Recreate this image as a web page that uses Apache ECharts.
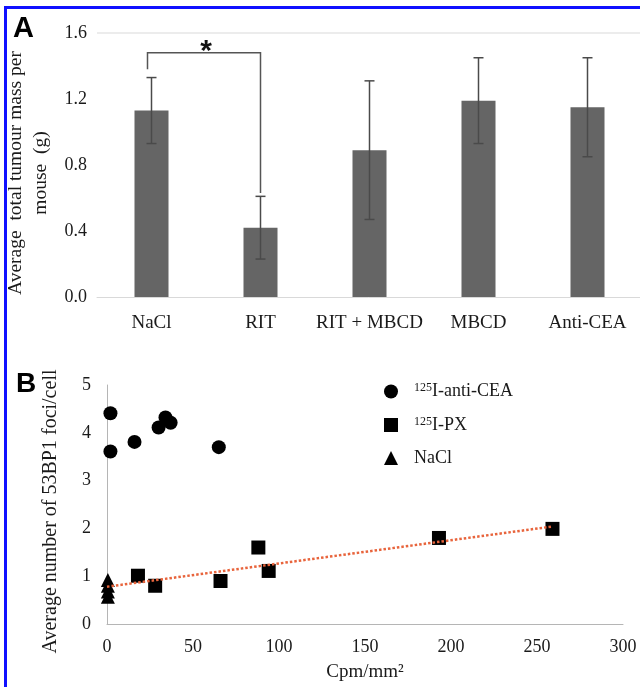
<!DOCTYPE html>
<html><head><meta charset="utf-8">
<script src="https://cdn.jsdelivr.net/npm/echarts@6/dist/echarts.min.js"></script>
<style>html,body{margin:0;padding:0;background:#fff}#c{width:640px;height:687px}</style>
</head><body><div id="c"></div>
<script>
// Panel A: average total tumour mass per mouse (g)
const categories = ['NaCl', 'RIT', 'RIT + MBCD', 'MBCD', 'Anti-CEA'];
const meanMass = [1.13, 0.42, 0.89, 1.19, 1.15];
const errMass = [0.20, 0.19, 0.42, 0.26, 0.30];
// significance bracket: [catA, catB, bracket level, left drop, right drop]
const sigBracket = [[0, 1, 1.48, 1.38, 0.63]];

// Panel B: 53BP1 foci vs Cpm/mm2
const antiCEA = [[2, 4.41], [2, 3.61], [16, 3.81], [30, 4.11], [34, 4.32], [37, 4.21], [65, 3.70]];
const iPX = [[18, 1.01], [28, 0.80], [66, 0.90], [88, 1.60], [94, 1.11], [193, 1.80], [259, 1.99]];
const naclB = [[0.5, 0.92], [0.5, 0.80], [0.5, 0.68], [0.5, 0.57]];
const trendLine = [[0, 0.78], [259, 2.04]];

const SERIF = 'Liberation Serif';
const txt = '#1a1a1a';

const chart = echarts.init(document.getElementById('c'), null, {renderer: 'canvas'});
chart.setOption({
  animation: false,
  backgroundColor: '#fff',
  textStyle: {fontFamily: SERIF},
  graphic: [
    {type: 'rect', shape: {x: 4, y: 6, width: 3, height: 681}, style: {fill: '#1010ff'}},
    {type: 'rect', shape: {x: 4, y: 6, width: 636, height: 3}, style: {fill: '#1010ff'}}
  ],
  title: [
    {text: 'A', left: 13, top: 14, padding: 0, textStyle: {fontFamily: 'Liberation Sans', fontWeight: 'bold', fontSize: 29, color: '#000'}},
    {text: 'B', left: 16, top: 370, padding: 0, textStyle: {fontFamily: 'Liberation Sans', fontWeight: 'bold', fontSize: 28, color: '#000'}}
  ],
  legend: {
    orient: 'vertical', left: 379, top: 377, itemWidth: 14, itemHeight: 14, itemGap: 14.5,
    data: ['125I-anti-CEA', '125I-PX', 'NaCl'],
    formatter: n => n.startsWith('125') ? '{sup|125}{t|' + n.slice(3) + '}' : '{t|' + n + '}',
    textStyle: {
      padding: [0, 0, 0, 11],
      rich: {
        t: {fontFamily: SERIF, fontSize: 18, color: txt, lineHeight: 22},
        sup: {fontFamily: SERIF, fontSize: 12, color: txt, lineHeight: 22, padding: [0, 0, 7, 0]}
      }
    }
  },
  grid: [
    {left: 97, right: -2, top: 33, height: 264, outerBoundsMode: 'none'},
    {left: 107, width: 516, top: 385, height: 239, outerBoundsMode: 'none'}
  ],
  xAxis: [
    {gridIndex: 0, type: 'category', data: categories,
     axisLine: {lineStyle: {color: '#d9d9d9', width: 1}}, axisTick: {show: false},
     axisLabel: {fontFamily: SERIF, fontSize: 19, color: txt, margin: 17, interval: 0, hideOverlap: false}},
    {gridIndex: 1, type: 'value', min: 0, max: 300, interval: 50,
     axisLine: {show: true, lineStyle: {color: '#b5b5b5', width: 1}}, axisTick: {show: false},
     splitLine: {show: false},
     axisLabel: {fontFamily: SERIF, fontSize: 18, color: txt, margin: 14},
     name: 'Cpm/mm²', nameLocation: 'middle', nameGap: 39,
     nameTextStyle: {fontFamily: SERIF, fontSize: 19, color: txt}}
  ],
  yAxis: [
    {gridIndex: 0, type: 'value', min: 0, max: 1.6, interval: 0.4,
     axisLine: {show: false}, axisTick: {show: false},
     splitLine: {show: true, lineStyle: {color: ['rgba(0,0,0,0)', 'rgba(0,0,0,0)', 'rgba(0,0,0,0)', 'rgba(0,0,0,0)', '#ececec'], width: 2}},
     axisLabel: {fontFamily: SERIF, fontSize: 18, color: txt, margin: 10, formatter: v => v.toFixed(1)},
     name: 'Average  total tumour mass per\nmouse  (g)', nameLocation: 'middle', nameRotate: 90, nameGap: 35,
     nameTextStyle: {fontFamily: SERIF, fontSize: 19.5, color: txt, lineHeight: 25, padding: [0, 16, 0, 0]}},
    {gridIndex: 1, type: 'value', min: 0, max: 5, interval: 1,
     axisLine: {show: true, lineStyle: {color: '#b5b5b5', width: 1}}, axisTick: {show: false},
     splitLine: {show: false},
     axisLabel: {fontFamily: SERIF, fontSize: 18, color: txt, margin: 16},
     name: 'Average number of 53BP1 foci/cell', nameLocation: 'middle', nameRotate: 90, nameGap: 46,
     nameTextStyle: {fontFamily: SERIF, fontSize: 20, color: txt, padding: [0, 14, 0, 0]}}
  ],
  series: [
    {type: 'bar', xAxisIndex: 0, yAxisIndex: 0, data: meanMass, barWidth: 34,
     itemStyle: {color: '#656565'}, silent: true},
    {type: 'custom', xAxisIndex: 0, yAxisIndex: 0, silent: true, z: 5,
     data: categories.map((c, i) => [i, meanMass[i] - errMass[i], meanMass[i] + errMass[i]]),
     renderItem: (params, api) => {
       const lo = api.coord([api.value(0), api.value(1)]);
       const hi = api.coord([api.value(0), api.value(2)]);
       const hw = 5;
       const st = {stroke: '#4a4a4a', lineWidth: 1.5};
       return {type: 'group', children: [
         {type: 'line', shape: {x1: lo[0], y1: lo[1], x2: hi[0], y2: hi[1]}, style: st},
         {type: 'line', shape: {x1: lo[0] - hw, y1: lo[1], x2: lo[0] + hw, y2: lo[1]}, style: st},
         {type: 'line', shape: {x1: hi[0] - hw, y1: hi[1], x2: hi[0] + hw, y2: hi[1]}, style: st}
       ]};
     }},
    {type: 'custom', xAxisIndex: 0, yAxisIndex: 0, silent: true, z: 5,
     data: sigBracket,
     renderItem: (params, api) => {
       const a = api.coord([api.value(0), api.value(3)]);
       const b = api.coord([api.value(0), api.value(2)]);
       const c = api.coord([api.value(1), api.value(2)]);
       const d = api.coord([api.value(1), api.value(4)]);
       return {type: 'group', children: [
         {type: 'polyline', shape: {points: [[a[0] - 4, a[1]], [b[0] - 4, b[1]], c, d]}, style: {stroke: '#555', lineWidth: 1.5, fill: null}},
         {type: 'text', x: (b[0] + c[0]) / 2, y: b[1] - 1,
          style: {text: '*', fontFamily: 'Liberation Sans', fontWeight: 'bold', fontSize: 30, fill: '#111', align: 'center', verticalAlign: 'middle'}}
       ]};
     }},
    {name: '125I-anti-CEA', type: 'scatter', xAxisIndex: 1, yAxisIndex: 1, data: antiCEA,
     symbol: 'circle', symbolSize: 14, itemStyle: {color: '#000', opacity: 1}, z: 4},
    {name: '125I-PX', type: 'scatter', xAxisIndex: 1, yAxisIndex: 1, data: iPX,
     symbol: 'rect', symbolSize: 14, itemStyle: {color: '#000', opacity: 1}, z: 4},
    {name: 'NaCl', type: 'scatter', xAxisIndex: 1, yAxisIndex: 1, data: naclB,
     symbol: 'triangle', symbolSize: 14, itemStyle: {color: '#000', opacity: 1}, z: 4},
    {type: 'line', xAxisIndex: 1, yAxisIndex: 1, data: trendLine, symbol: 'none', silent: true, z: 5,
     lineStyle: {color: '#e8643c', width: 2.5, type: [2.5, 2]}}
  ]
});
</script></body></html>
